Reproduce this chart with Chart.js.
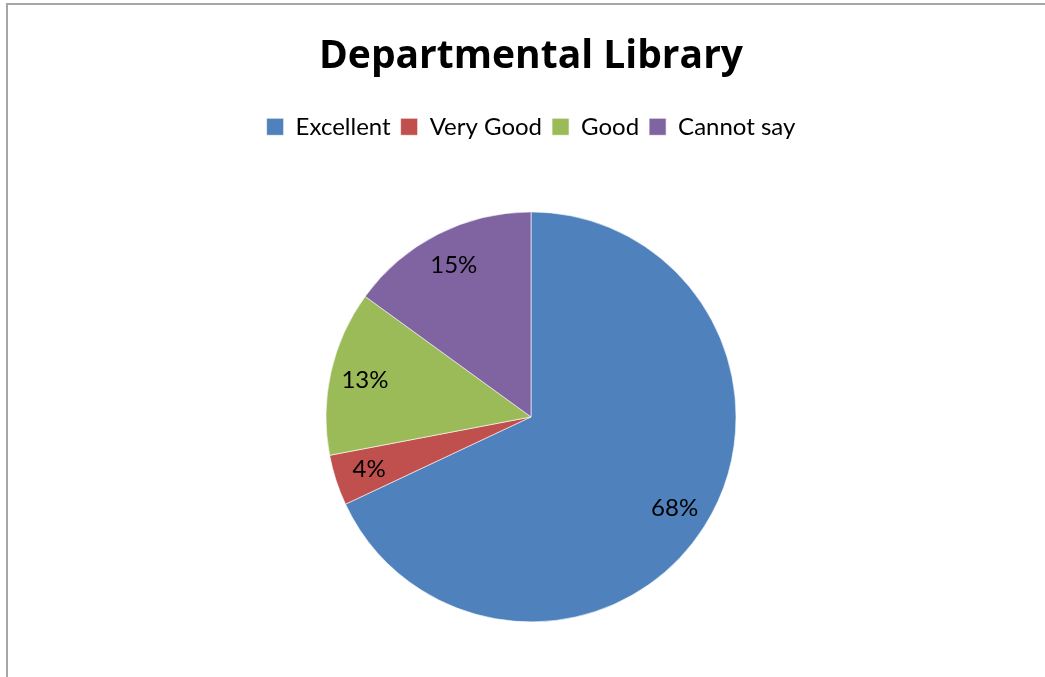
<!DOCTYPE html>
<html>
<head>
<meta charset="utf-8">
<title>Departmental Library</title>
<script src="https://cdn.jsdelivr.net/npm/chart.js@4/dist/chart.umd.min.js"></script>
<style>
	html, body { margin: 0; padding: 0; background: #fff; overflow: hidden; }
	#wrap { position: absolute; left: 0; top: 0; width: 1045px; height: 677px; }
	#frame { position: absolute; left: 6px; top: 3px; width: 1100px; height: 700px;
		border-left: 2px solid #a6a6a6; border-top: 2px solid #a6a6a6; }
	canvas { position: absolute; left: 0; top: 0; }
</style>
</head>
<body>
<div id="wrap">
	<div id="frame"></div>
	<canvas id="pie" width="1045" height="677"></canvas>
</div>
<script>
var labels = ["Excellent", "Very Good", "Good", "Cannot say"];
var percents = [68, 4, 13, 15];
var colors = ["#4f81bd", "#c0504d", "#9bbb59", "#8064a2"];

// writes "68%" etc. inside each slice, like Excel does
var sliceLabels = {
	id: "sliceLabels",
	afterDatasetsDraw: function(chart) {
		var ctx = chart.ctx;
		var meta = chart.getDatasetMeta(0);
		ctx.save();
		ctx.font = "24px Lato";
		ctx.fillStyle = "#000";
		ctx.textAlign = "center";
		ctx.textBaseline = "middle";
		meta.data.forEach(function(arc, i) {
			var p = arc.getProps(["x", "y", "startAngle", "endAngle", "outerRadius"], true);
			var mid = (p.startAngle + p.endAngle) / 2;
			var r = p.outerRadius * 0.83;
			ctx.fillText(percents[i] + "%", p.x + Math.cos(mid) * r, p.y + Math.sin(mid) * r);
		});
		ctx.restore();
	}
};

// a bit more room under the legend, so the pie sits where Excel put it
var legendGap = {
	id: "legendGap",
	beforeInit: function(chart) {
		var fit = chart.legend.fit;
		chart.legend.fit = function() {
			fit.bind(chart.legend)();
			this.height += 8;
		};
	}
};

var chart = new Chart(document.getElementById("pie").getContext("2d"), {
	type: "pie",
	data: {
		labels: labels,
		datasets: [{
			data: percents,
			backgroundColor: colors,
			borderColor: "rgba(255,255,255,0.6)",
			borderWidth: 1,
			radius: 205
		}]
	},
	options: {
		responsive: false,
		animation: false,
		layout: { padding: { left: 17, top: 0, bottom: 0 } },
		plugins: {
			title: {
				display: true,
				text: "Departmental Library",
				color: "#000",
				font: { family: "Open Sans", size: 39, weight: "bold" },
				padding: { top: 33, bottom: 25 }
			},
			legend: {
				position: "top",
				labels: {
					color: "#000",
					font: { family: "Lato", size: 24 },
					boxWidth: 17,
					boxHeight: 17,
					padding: 10
				}
			},
			tooltip: { enabled: false }
		}
	},
	plugins: [sliceLabels, legendGap]
});
</script>
</body>
</html>
